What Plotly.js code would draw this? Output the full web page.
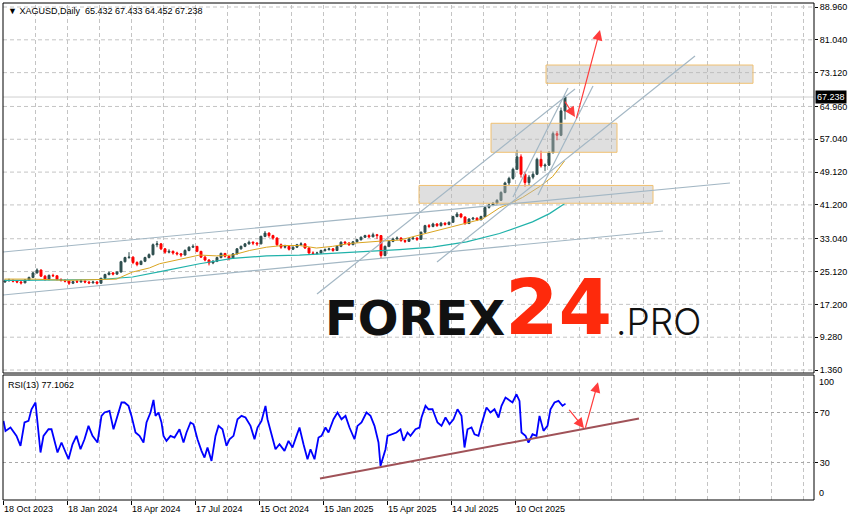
<!DOCTYPE html>
<html><head><meta charset="utf-8">
<script src="https://cdn.plot.ly/plotly-3.0.1.min.js"></script>
<style>html,body{margin:0;padding:0;background:#fff;}#chart{width:855px;height:521px;}</style>
</head><body><div id="chart"></div>
<script>
// ---- price candles (each candle = 4 daily bars) ----
const candleOpen = [22.6,22.9,23.0,22.8,22.6,22.4,23.1,23.7,24.8,25.5,
24.0,23.2,24.2,24.1,23.2,23.0,22.8,22.3,22.7,22.6,
22.8,22.6,22.4,22.6,22.3,23.5,24.4,24.8,24.5,25.0,
27.5,28.5,28.6,27.3,26.8,27.6,28.5,29.2,31.6,31.8,
30.6,29.8,30.0,29.6,29.4,29.1,30.2,31.0,31.2,30.0,
28.6,27.9,27.2,27.6,28.5,29.5,28.8,28.3,29.4,30.6,
31.2,31.8,32.2,32.0,31.8,33.6,34.4,33.8,33.2,31.6,
31.0,31.2,30.5,31.0,31.6,31.8,30.8,29.6,29.5,29.6,
30.2,30.4,30.6,30.2,31.2,32.2,32.0,31.6,32.3,32.8,
33.4,33.8,33.5,34.0,33.8,29.0,31.2,32.4,33.0,33.2,
32.6,32.4,33.0,33.2,32.9,34.6,36.2,36.0,36.6,36.2,
36.8,36.5,37.0,38.4,39.0,38.3,36.7,37.8,38.0,37.6,
38.4,40.6,41.2,41.6,42.3,44.2,46.5,47.6,49.8,52.8,
48.6,46.6,47.9,48.6,52.2,50.6,50.8,53.8,58.4,58.0,63.9];
const candleHigh = [23.2,23.4,23.2,23.0,22.9,23.3,23.9,25.0,25.9,25.6,
24.3,24.4,24.6,24.2,23.5,23.3,22.9,22.9,23.1,23.2,
23.0,22.8,22.9,22.8,23.6,24.6,25.1,25.0,25.2,27.7,
28.7,29.8,28.8,27.6,27.8,28.7,29.5,31.9,32.5,32.0,
30.8,30.5,30.2,29.9,29.6,30.5,31.2,31.7,31.3,30.1,
28.9,28.1,27.9,28.7,29.7,29.6,29.0,29.6,30.8,31.4,
32.0,32.6,32.4,32.2,33.8,34.9,34.6,34.0,33.4,31.9,
31.6,31.4,31.2,31.8,32.2,31.9,31.0,30.0,29.9,30.4,
30.7,30.9,30.8,31.4,32.4,32.5,32.2,32.5,33.0,33.6,
34.0,34.1,34.5,34.2,33.9,31.4,32.6,33.3,33.6,33.4,
32.8,33.2,33.5,33.4,34.8,36.4,36.6,36.9,36.8,37.1,
37.0,37.2,38.6,39.5,39.2,38.4,38.0,38.3,38.2,38.6,
40.8,41.5,41.9,42.6,44.5,46.8,48.0,50.2,54.5,53.4,
49.2,48.4,49.3,52.6,54.3,51.2,54.2,58.9,59.0,64.7,67.433];
const candleLow = [22.4,22.7,22.5,22.3,22.0,22.3,22.9,23.6,24.6,23.8,
22.9,23.0,23.8,23.0,22.7,22.5,21.9,22.1,22.4,22.5,
22.3,22.1,22.2,22.0,22.2,23.4,24.2,24.2,24.3,24.9,
27.3,28.2,26.9,26.4,26.7,27.4,28.3,29.0,31.0,30.3,
29.4,29.5,29.2,29.0,28.6,29.0,30.0,30.8,29.8,28.4,
27.6,26.6,26.9,27.4,28.3,28.5,27.8,28.2,29.2,30.4,
31.0,31.6,31.5,31.3,31.7,33.4,33.3,32.8,31.3,30.6,
30.7,30.2,30.3,30.8,31.4,30.6,29.4,29.1,29.2,29.4,
29.9,30.2,29.9,30.1,31.0,31.7,31.3,31.5,32.1,32.6,
33.2,33.2,33.4,33.0,28.4,28.8,31.0,32.2,32.8,32.3,
32.0,32.3,32.8,32.5,32.8,34.5,35.6,35.8,35.9,36.0,
36.2,36.3,36.9,38.2,38.0,36.4,36.6,37.5,37.3,37.5,
38.3,40.3,40.9,41.3,42.2,44.0,46.0,47.3,49.6,47.8,
45.6,46.0,47.4,48.4,50.2,49.4,50.6,53.6,56.8,57.8,61.8];
const candleClose = [22.9,23.0,22.8,22.6,22.4,23.1,23.7,24.8,25.5,24.0,
23.2,24.2,24.1,23.2,23.0,22.8,22.3,22.7,22.6,22.8,
22.6,22.4,22.6,22.3,23.5,24.4,24.8,24.5,25.0,27.5,
28.5,28.6,27.3,26.8,27.6,28.5,29.2,31.6,31.8,30.6,
29.8,30.0,29.6,29.4,29.1,30.2,31.0,31.2,30.0,28.6,
27.9,27.2,27.6,28.5,29.5,28.8,28.3,29.4,30.6,31.2,
31.8,32.2,32.0,31.8,33.6,34.4,33.8,33.2,31.6,31.0,
31.2,30.5,31.0,31.6,31.8,30.8,29.6,29.5,29.6,30.2,
30.4,30.6,30.2,31.2,32.2,32.0,31.6,32.3,32.8,33.4,
33.8,33.5,34.0,33.8,29.0,31.2,32.4,33.0,33.2,32.6,
32.4,33.0,33.2,32.9,34.6,36.2,36.0,36.6,36.2,36.8,
36.5,37.0,38.4,39.0,38.3,36.7,37.8,38.0,37.6,38.4,
40.6,41.2,41.6,42.3,44.2,46.5,47.6,49.8,52.8,48.6,
46.6,47.9,48.6,52.2,50.6,50.8,53.8,58.4,58.0,63.9,67.238];
const barsPerCandle = 4;

// ---- moving averages (bar index, value) ----
const maFastBar = [1,30,63,96,113,129,146,156,179,196,213,229,246,263,279,296,313,329,346,363,379,396,429,463,479,496,506,519,536,549,561];
const maFast = [23.3,23.3,23.0,23.1,23.3,25.0,26.0,27.0,28.3,29.1,28.9,29.1,30.2,31.0,31.4,31.4,30.8,31.2,31.9,32.3,32.5,32.7,34.7,36.7,37.8,40.5,41.5,43.0,45.6,48.0,51.8];
const maSlowBar = [1,16,96,129,163,196,229,263,296,329,363,396,429,463,496,529,546,561];
const maSlow = [23.0,23.0,23.2,23.8,25.4,27.0,28.3,28.9,29.1,29.5,29.9,30.4,31.0,32.3,34.3,37.1,39.1,41.5];

// ---- RSI(13) ----
const rsiBar = [0,2,7,13,17,21,25,28,32,35,37,40,45,48,51,54,58,61,65,69,73,77,81,85,89,94,98,101,106,110,114,118,121,125,128,132,136,140,143,147,150,152,155,158,160,163,167,171,176,180,183,187,190,194,198,201,204,208,212,215,219,223,226,230,234,238,242,247,251,254,258,262,264,269,272,276,281,285,289,293,296,300,304,307,311,315,318,322,325,330,334,338,342,346,351,354,358,363,367,371,375,377,382,384,389,393,397,400,404,407,412,416,418,422,425,429,434,438,442,446,450,454,458,461,464,468,471,475,478,483,487,491,495,498,502,506,509,513,516,518,522,525,529,533,536,540,544,547,551,555,559,562];
const rsiVal = [63.3,55.3,58.0,51.3,43.3,62.0,63.3,72.6,78.0,56.6,38.0,51.3,56.6,56.6,46.0,38.0,46.0,40.6,32.6,44.6,51.3,40.6,48.6,59.3,51.3,46.0,67.3,70.0,71.3,56.6,67.3,78.0,78.0,75.3,67.3,54.0,51.3,46.0,62.0,70.0,80.1,67.3,70.0,62.0,51.3,47.3,51.3,50.0,56.6,46.0,54.0,62.0,60.6,48.6,39.3,34.0,42.0,31.3,51.3,59.3,56.6,43.3,48.6,51.3,64.6,67.3,66.0,59.3,48.6,58.0,63.3,75.3,64.6,50.0,40.6,44.6,39.3,47.3,42.0,51.3,58.0,44.6,32.6,40.6,32.6,50.0,51.3,58.0,54.0,64.6,70.0,64.6,67.3,58.0,48.6,59.3,62.0,70.0,67.3,59.3,46.0,27.3,40.6,51.3,52.6,54.0,56.6,47.3,54.0,51.3,56.6,58.0,66.0,75.3,72.6,72.6,62.0,59.3,66.0,60.6,64.6,72.6,67.3,42.0,56.6,58.0,52.6,51.3,60.6,74.0,70.0,72.6,66.0,75.3,82.0,79.3,78.0,84.6,79.3,54.0,51.3,46.0,52.6,51.3,67.3,55.3,59.3,72.6,78.0,79.3,75.3,77.1];

// ---- axes ----
const dateTickBars = [0,64,128,192,256,320,384,448,512];
const dateTickLabels = ['18 Oct 2023','18 Jan 2024','18 Apr 2024','17 Jul 2024','15 Oct 2024','15 Jan 2025','15 Apr 2025','14 Jul 2025','10 Oct 2025'];
const gridBars = [32,64,96,128,160,192,224,256,288,320,352,384,416,448,480,512,544,576,608,640,672,704,736,768,800];
const priceTicks = [1.36,9.28,17.2,25.12,33.04,41.2,49.12,57.04,64.96,73.12,81.04,88.96];
const rsiLevels = [70,30];
const lastPrice = 67.238;

// ---- drawings ----
const trendX0 = [-0.5,-0.5,313.5,433.5,509.5,534.5];
const trendY0 = [29.84,19.46,19.70,27.43,43.11,43.59];
const trendX1 = [726.5,659.5,571.5,691.5,564.5,589.5];
const trendY1 = [46.49,34.91,69.17,77.14,69.41,69.90];
const zoneX0 = [415.5,487.5,542.5];
const zoneX1 = [649.5,613.5,749.5];
const zoneLo = [41.6,53.9,70.55];
const zoneHi = [45.9,60.9,74.96];
const arrowTailX = [560.5,572.5];
const arrowTailY = [66.5,61.7];
const arrowHeadX = [571.5,596.5];
const arrowHeadY = [62.4,83.4];
const rsiLineX = [316.5,635.5];
const rsiLineY = [17.2,65.2];
const rsiArrowTailX = [564.5,581.5];
const rsiArrowTailY = [73.4,56.6];
const rsiArrowHeadX = [580.5,594.5];
const rsiArrowHeadY = [57.4,94.2];

const candleX = candleClose.map((_, k) => k*barsPerCandle + (barsPerCandle-1)/2);

const traces = [
  {type:'scatter', mode:'lines', x:maSlowBar, y:maSlow, xaxis:'x', yaxis:'y', line:{color:'#20b2aa', width:1.2}, hoverinfo:'skip'},
  {type:'scatter', mode:'lines', x:maFastBar, y:maFast, xaxis:'x', yaxis:'y', line:{color:'#daa520', width:1}, hoverinfo:'skip'},
  {type:'candlestick', x:candleX, open:candleOpen, high:candleHigh, low:candleLow, close:candleClose,
   xaxis:'x', yaxis:'y', whiskerwidth:0,
   increasing:{line:{color:'#2f4f4f', width:1}, fillcolor:'#2f4f4f'},
   decreasing:{line:{color:'#ff0000', width:1}, fillcolor:'#ff0000'}, hoverinfo:'skip'},
  {type:'scatter', mode:'lines', x:rsiBar, y:rsiVal, xaxis:'x', yaxis:'y2', line:{color:'#0000ff', width:1.8}, hoverinfo:'skip'}
];

const gridLine = {color:'#c4c4c4', width:1, dash:'4px,3px'};
const shapes = [];
// grid (drawn from the axis tick arrays)
gridBars.forEach(b => {
  shapes.push({type:'line', xref:'x', yref:'y domain', x0:b, x1:b, y0:0, y1:1, line:gridLine, layer:'below'});
  shapes.push({type:'line', xref:'x', yref:'y2 domain', x0:b, x1:b, y0:0, y1:1, line:gridLine, layer:'below'});
});
priceTicks.forEach(v => shapes.push({type:'line', xref:'x domain', yref:'y', x0:0, x1:1, y0:v, y1:v, line:gridLine, layer:'below'}));
shapes.push({type:'line', xref:'x domain', yref:'y', x0:0, x1:1, y0:lastPrice, y1:lastPrice, line:{color:'#cfcfcf', width:1}, layer:'below'});
rsiLevels.forEach(v => shapes.push({type:'line', xref:'x domain', yref:'y2', x0:0, x1:1, y0:v, y1:v, line:{color:'#a8a8a8', width:1, dash:'3px,3px'}, layer:'below'}));
zoneX0.forEach((x0, i) => shapes.push({type:'rect', xref:'x', yref:'y', x0:x0, x1:zoneX1[i], y0:zoneLo[i], y1:zoneHi[i],
  fillcolor:'rgba(185,185,185,0.45)', line:{color:'#f0c070', width:1}, layer:'above'}));
trendX0.forEach((x0, i) => shapes.push({type:'line', xref:'x', yref:'y', x0:x0, y0:trendY0[i], x1:trendX1[i], y1:trendY1[i],
  line:{color:'#a3b7c4', width:1.2}, layer:'above'}));
shapes.push({type:'line', xref:'x', yref:'y2', x0:rsiLineX[0], y0:rsiLineY[0], x1:rsiLineX[1], y1:rsiLineY[1], line:{color:'#a05258', width:2}});
shapes.push({type:'rect', xref:'x domain', yref:'y domain', x0:0, x1:1, y0:0, y1:1, line:{color:'#000', width:1}});
shapes.push({type:'rect', xref:'x domain', yref:'y2 domain', x0:0, x1:1, y0:0, y1:1, line:{color:'#000', width:1}});

const red = '#ff3c3c';
const annotations = [];
arrowHeadX.forEach((x, i) => annotations.push({x:x, y:arrowHeadY[i], xref:'x', yref:'y', ax:arrowTailX[i], ay:arrowTailY[i], axref:'x', ayref:'y',
  text:'', showarrow:true, arrowhead:2, arrowsize:1.7, arrowwidth:1.2, arrowcolor:red, standoff:0, startstandoff:0}));
rsiArrowHeadX.forEach((x, i) => annotations.push({x:x, y:rsiArrowHeadY[i], xref:'x', yref:'y2', ax:rsiArrowTailX[i], ay:rsiArrowTailY[i], axref:'x', ayref:'y2',
  text:'', showarrow:true, arrowhead:2, arrowsize:1.7, arrowwidth:1.2, arrowcolor:red, standoff:0, startstandoff:0}));
annotations.push({xref:'paper', yref:'paper', x:0.0037, y:0.9839, xanchor:'left', yanchor:'middle', showarrow:false,
  text:'\u25BC XAGUSD,Daily  65.432 67.433 64.452 67.238', font:{size:9}});
annotations.push({xref:'paper', yref:'paper', x:0.0037, y:0.2314, xanchor:'left', yanchor:'middle', showarrow:false,
  text:'RSI(13) 77.1062', font:{size:9}});
annotations.push({xref:'paper', yref:'paper', x:1, xshift:3, y:0.2374, xanchor:'left', yanchor:'middle', showarrow:false, text:'100', font:{size:9}});
annotations.push({xref:'paper', yref:'paper', x:1, xshift:3, y:0.0141, xanchor:'left', yanchor:'middle', showarrow:false, text:'0', font:{size:9}});
annotations.push({xref:'paper', yref:'y', x:1, xshift:1, y:lastPrice, xanchor:'left', yanchor:'middle', showarrow:false,
  text:lastPrice.toFixed(3), bgcolor:'#000', borderpad:1, font:{size:9, color:'#fff'}});
// watermark
annotations.push({xref:'paper', yref:'paper', x:(507-3)/811, y:0.3672, xanchor:'right', yanchor:'middle', showarrow:false,
  text:'FOREX', font:{family:'DejaVu Sans, sans-serif', size:48, weight:'bold', color:'#111'}});
annotations.push({xref:'paper', yref:'paper', x:(558-3)/811, y:0.3873, xanchor:'center', yanchor:'middle', showarrow:false,
  text:'24', font:{family:'DejaVu Sans, sans-serif', size:77, weight:'bold', color:'#fe2a0c'}});
annotations.push({xref:'paper', yref:'paper', x:(614-3)/811, y:0.3601, xanchor:'left', yanchor:'middle', showarrow:false,
  text:'.PRO', font:{family:'Inter, Lato, sans-serif', size:37, weight:300, color:'#111'}});

const layout = {
  width:855, height:521,
  margin:{l:3, r:41, t:3, b:21, pad:0},
  paper_bgcolor:'#fff', plot_bgcolor:'#fff',
  showlegend:false,
  font:{family:'Liberation Sans, Arial, sans-serif', size:9, color:'#000'},
  xaxis:{type:'linear', range:[-0.5,810.5], anchor:'y2', tickmode:'array', tickvals:dateTickBars, ticktext:dateTickLabels,
    ticks:'outside', ticklen:4, tickcolor:'#000', ticklabelposition:'outside right',
    showgrid:false, zeroline:false, showline:false, rangeslider:{visible:false}},
  yaxis:{domain:[0.2555,1], range:[0.636,89.925], side:'right', anchor:'x', tickmode:'array', tickvals:priceTicks,
    ticktext:priceTicks.map(v => v.toFixed(3)), ticks:'outside', ticklen:3, tickcolor:'#000',
    showgrid:false, zeroline:false, showline:false},
  yaxis2:{domain:[0,0.2515], range:[0,100], side:'right', anchor:'x', tickmode:'array', tickvals:rsiLevels,
    ticks:'outside', ticklen:3, tickcolor:'#000', showgrid:false, zeroline:false, showline:false},
  shapes:shapes, annotations:annotations
};

Plotly.newPlot('chart', traces, layout, {staticPlot:true, displayModeBar:false});
</script></body></html>
